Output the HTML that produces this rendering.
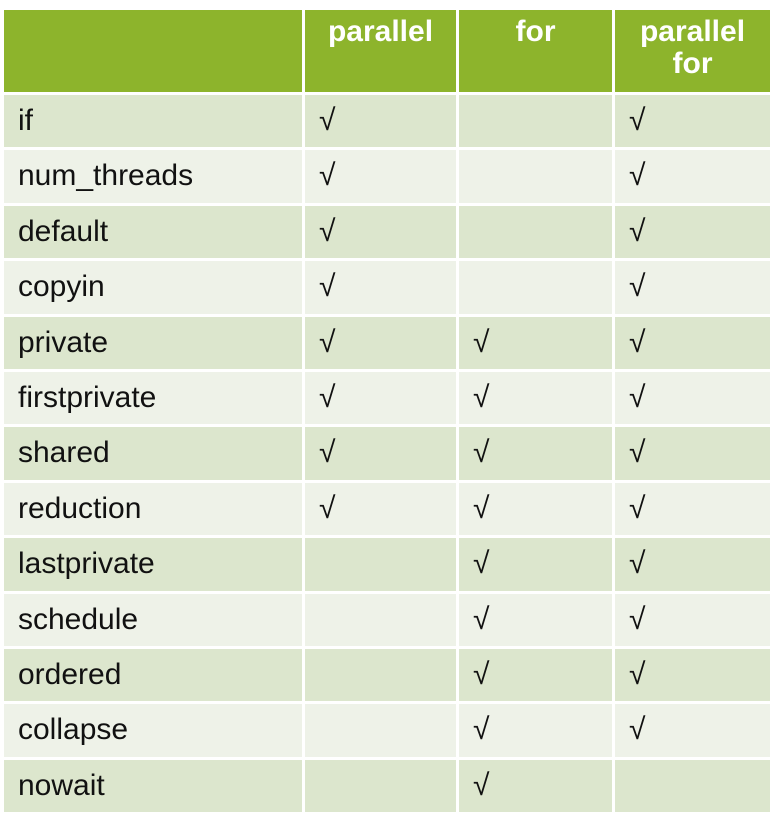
<!DOCTYPE html>
<html><head><style>
body{margin:0;width:775px;height:822px;background:#fff;overflow:hidden;font-family:"Liberation Sans",sans-serif;}
.t{position:absolute;left:4px;top:10px;}
.r{position:absolute;left:0;width:766px;}
.c{position:absolute;top:0;bottom:0;box-sizing:border-box;}
.h{background:#8db42c;color:#fff;font-weight:bold;font-size:30px;text-align:center;line-height:32px;}
.txt{font-size:30px;color:#111;}
</style></head><body>
<div class="t">
<div class="r" style="top:0;height:82px;">
 <div class="c h" style="left:0;width:298px;"></div>
 <div class="c h" style="left:301px;width:151px;padding-top:6px;">parallel</div>
 <div class="c h" style="left:455px;width:153px;padding-top:6px;">for</div>
 <div class="c h" style="left:611px;width:155px;padding-top:6px;">parallel<br>for</div>
</div>
<div id="rows"></div>
</div>
<script>
var d=[["if",1,0,1],["num_threads",1,0,1],["default",1,0,1],["copyin",1,0,1],["private",1,1,1],["firstprivate",1,1,1],["shared",1,1,1],["reduction",1,1,1],["lastprivate",0,1,1],["schedule",0,1,1],["ordered",0,1,1],["collapse",0,1,1],["nowait",0,1,0]];
var h="";var L=[[0,298],[301,151],[455,153],[611,155]];
d.forEach(function(r,i){var top=85+i*55.4;var bg=i%2?"#eef2e8":"#dce6cd";
h+='<div class="r" style="top:'+top+'px;height:52.4px;">';
for(var j=0;j<4;j++){var t=j==0?r[0]:(r[j]?"√":"");
h+='<div class="c txt" style="left:'+L[j][0]+'px;width:'+L[j][1]+'px;background:'+bg+';padding-left:14px;line-height:52px;">'+t+'</div>';}
h+='</div>';});
document.getElementById("rows").innerHTML=h;
</script>
</body></html>
